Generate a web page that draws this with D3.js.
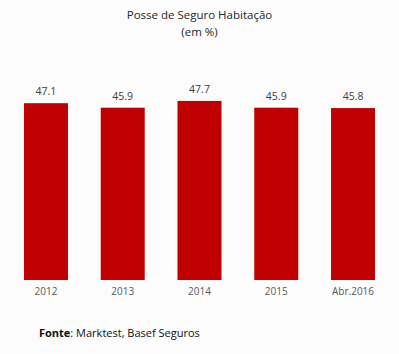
<!DOCTYPE html>
<html>
<head>
<meta charset="utf-8">
<script src="https://cdn.jsdelivr.net/npm/d3@7"></script>
<style>
  html, body { margin: 0; padding: 0; background: #fcfcfc; }
  svg { display: block; font-family: "Open Sans", "Noto Sans", sans-serif; }
</style>
</head>
<body>
<div id="chart"></div>
<script>
const categories = ['2012', '2013', '2014', '2015', 'Abr.2016'];
const values = [47.1, 45.9, 47.7, 45.9, 45.8];

const width = 399, height = 354;

let svg = d3.select('#chart')
    .append('svg')
    .attr('width', width)
    .attr('height', height);

svg.append('rect')
    .attr('width', width)
    .attr('height', height)
    .attr('fill', '#fcfcfc');

let xScale = d3.scaleBand()
    .domain(categories)
    .range([7.6, 391.4])
    .paddingInner(0.427)
    .paddingOuter(0.2135);

// 0 sits on the baseline at y=280
let yScale = d3.scaleLinear()
    .domain([0, 50])
    .range([280, 92.3]);

svg.selectAll('.bar')
    .data(values)
    .enter()
    .append('rect')
    .attr('class', 'bar')
    .attr('x', (d, i) => xScale(categories[i]))
    .attr('y', d => yScale(d))
    .attr('width', xScale.bandwidth())
    .attr('height', d => yScale(0) - yScale(d))
    .attr('fill', '#c00000');

svg.selectAll('.val')
    .data(values)
    .enter()
    .append('text')
    .attr('class', 'val')
    .attr('x', (d, i) => xScale(categories[i]) + xScale.bandwidth() / 2)
    .attr('y', d => yScale(d) - 8)
    .attr('text-anchor', 'middle')
    .attr('font-size', 10.5)
    .attr('fill', '#404040')
    .text(d => d.toFixed(1));

let xAxis = d3.axisBottom(xScale).tickSize(0).tickPadding(8);
let xAxisGroup = svg.append('g')
    .attr('transform', 'translate(0,280)')
    .call(xAxis);
xAxisGroup.select('.domain').remove();
xAxisGroup.selectAll('text')
    .attr('font-size', 10)
    .attr('font-family', '"Open Sans", "Noto Sans", sans-serif')
    .attr('fill', '#595959');

svg.append('text')
    .attr('x', 199.5)
    .attr('y', 19)
    .attr('text-anchor', 'middle')
    .attr('font-size', 11.5)
    .attr('fill', '#262626')
    .text('Posse de Seguro Habitação');

svg.append('text')
    .attr('x', 199.5)
    .attr('y', 36)
    .attr('text-anchor', 'middle')
    .attr('font-size', 11.5)
    .attr('fill', '#262626')
    .text('(em %)');

let fonte = svg.append('text')
    .attr('x', 39)
    .attr('y', 337)
    .attr('font-size', 11)
    .attr('fill', '#111');
fonte.append('tspan').attr('font-weight', 'bold').text('Fonte');
fonte.append('tspan').text(': Marktest, Basef Seguros');
</script>
</body>
</html>
